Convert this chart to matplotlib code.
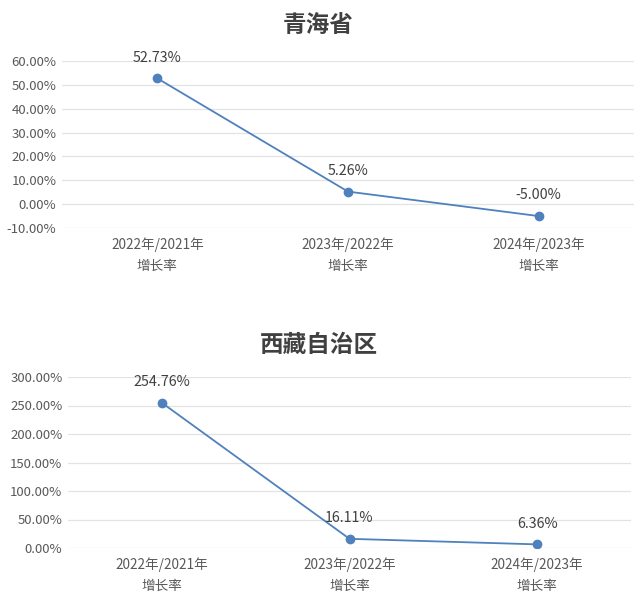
import matplotlib
matplotlib.use("Agg")
import matplotlib.pyplot as plt
from matplotlib.ticker import FuncFormatter, MultipleLocator

plt.rcParams['font.family'] = ['Noto Sans CJK SC', 'DejaVu Sans']

categories = ["2022年/2021年\n增长率", "2023年/2022年\n增长率", "2024年/2023年\n增长率"]
qinghai = [52.73, 5.26, -5.00]
xizang = [254.76, 16.11, 6.36]
titles = ["青海省", "西藏自治区"]

line_color = "#4f81bd"
text_color = "#595959"
grid_color = "#e3e3e3"

fig = plt.figure(figsize=(6.37, 6.16), dpi=100)
fig.patch.set_facecolor("white")

# [left, bottom, width, height] in figure fraction
boxes = [
    [62 / 637, 1 - 228 / 616, 572 / 637, 167 / 616],
    [68 / 637, 1 - 548 / 616, 563 / 637, 171 / 616],
]
limits = [(-10, 60, 10), (0, 300, 50)]
series = [qinghai, xizang]
title_y = [1 - 25 / 616, 1 - 345 / 616]

for box, (lo, hi, step), vals, title, ty in zip(boxes, limits, series, titles, title_y):
    ax = fig.add_axes(box)
    x = list(range(len(categories)))
    ax.plot(x, vals, color=line_color, linewidth=1.3, marker="o",
            markersize=6, zorder=3)
    for xi, v in zip(x, vals):
        ax.annotate(f"{v:.2f}%", (xi, v), xytext=(0, 15), textcoords="offset points",
                    ha="center", va="center", fontsize=10.3, color="#404040")
    ax.set_xlim(-0.5, len(categories) - 0.5)
    ax.set_ylim(lo, hi)
    ax.yaxis.set_major_locator(MultipleLocator(step))
    ax.yaxis.set_major_formatter(FuncFormatter(lambda v, p: f"{v:.2f}%"))
    ax.set_xticks(x)
    ax.set_xticklabels(categories, fontsize=9.8, color=text_color, linespacing=1.55)
    ax.tick_params(axis="y", labelsize=9.5, labelcolor=text_color, length=0, pad=4)
    ax.tick_params(axis="x", length=0, pad=7)
    ax.grid(axis="y", color=grid_color, linewidth=0.9)
    ax.set_axisbelow(True)
    for s in ax.spines.values():
        s.set_visible(False)
    fig.text(0.5, ty, title, ha="center", va="center", fontsize=17,
             fontweight="bold", color="#404040")

fig.savefig("out.png", dpi=100)
